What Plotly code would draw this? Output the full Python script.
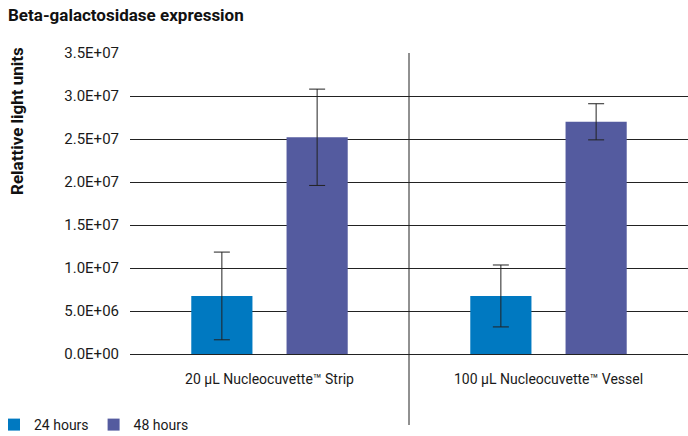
import plotly.graph_objects as go

categories = ["20 µL Nucleocuvette™ Strip", "100 µL Nucleocuvette™ Vessel"]
series_names = ["24 hours", "48 hours"]
values_24h = [6.75e6, 6.75e6]
errors_24h = [5.1e6, 3.6e6]
values_48h = [2.52e7, 2.70e7]
errors_48h = [5.6e6, 2.1e6]
tick_vals = [0, 5e6, 1e7, 1.5e7, 2e7, 2.5e7, 3e7, 3.5e7]
tick_text = ["0.0E+00", "5.0E+06", "1.0E+07", "1.5E+07", "2.0E+07", "2.5E+07", "3.0E+07", "3.5E+07"]
colors = ["#0079C1", "#545B9F"]

FONT = "Roboto"
L, T, B, R = 130, 53, 82, 0
PW, PH = 688 - L - R, 436 - T - B

fig = go.Figure()
for name, vals, errs, col in [(series_names[0], values_24h, errors_24h, colors[0]),
                              (series_names[1], values_48h, errors_48h, colors[1])]:
    fig.add_trace(go.Bar(
        x=categories, y=vals, name=name, marker=dict(color=col, line=dict(width=0)),
        error_y=dict(type="data", array=errs, visible=True, color="#222222", thickness=1, width=8),
    ))

fig.update_layout(
    width=688, height=436,
    margin=dict(l=L, r=R, t=T, b=B, autoexpand=False),
    paper_bgcolor="white", plot_bgcolor="white",
    barmode="group", bargap=0.317, bargroupgap=0.358,
    font=dict(family=FONT, size=14, color="#1a1a1a"),
    title=dict(text="<b>Beta-galactosidase expression</b>", x=8/688, xanchor="left",
               y=1 - 15/436, yanchor="middle", xref="container", yref="container",
               font=dict(family=FONT, size=17, color="#111111")),
    showlegend=True,
    legend=dict(orientation="h", x=(-6 - L)/PW, xanchor="left", y=(354-425)/PH, yanchor="middle",
                font=dict(family=FONT, size=14), tracegroupgap=0,
                bgcolor="rgba(0,0,0,0)"),
    xaxis=dict(showgrid=False, showline=True, linecolor="#222222", linewidth=1,
               ticks="", ticklabelstandoff=12, tickfont=dict(family=FONT, size=14)),
    yaxis=dict(range=[0, 3.5e7], tickvals=tick_vals, ticktext=tick_text, showgrid=True,
               gridcolor="#222222", gridwidth=1, zeroline=False, showline=False,
               ticks="", ticklabelstandoff=10, tickfont=dict(family=FONT, size=15)),
    annotations=[dict(text="<b>Relattive light units</b>", textangle=-90, xref="paper", yref="paper",
                      x=(17-L)/PW, y=(354-121)/PH, xanchor="center", yanchor="middle",
                      showarrow=False, font=dict(family=FONT, size=17, color="#111111"))],
    shapes=[dict(type="line", xref="x", yref="paper", x0=0.5, x1=0.5, y0=1, y1=(354-425)/PH,
                 line=dict(color="#222222", width=1))],
)

fig.write_html("out.html", config={"displayModeBar": False},
               post_script="document.body.style.margin='0';document.body.style.padding='0';")
